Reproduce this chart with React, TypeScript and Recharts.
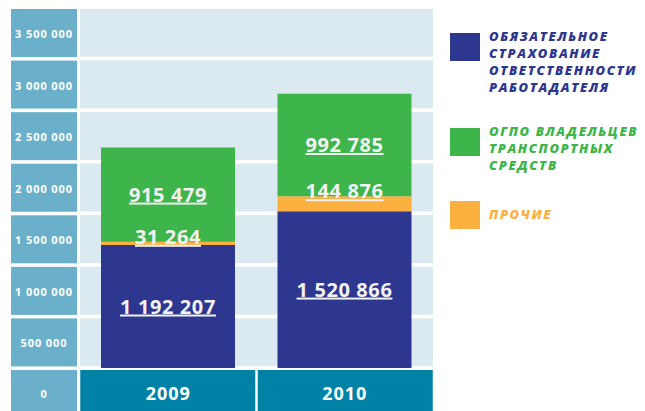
import { BarChart, Bar, XAxis, YAxis, CartesianGrid, LabelList } from 'recharts'

const YEARS = ['2009', '2010']
const LIABILITY = [1192207, 1520866]
const OTHER = [31264, 144876]
const MOTOR = [915479, 992785]
const Y_TICKS = [0, 500000, 1000000, 1500000, 2000000, 2500000, 3000000, 3500000]

const COLORS = {
    liability: '#2e3790',
    motor: '#3db54a',
    other: '#fbb040',
    plotBg: '#dbe9f1',
    yCell: '#6ab0cb',
    xCell: '#0082a7',
}

const LEGEND = [
    { key: 'liability', top: 33, lines: ['ОБЯЗАТЕЛЬНОЕ', 'СТРАХОВАНИЕ', 'ОТВЕТСТВЕННОСТИ', 'РАБОТАДАТЕЛЯ'] },
    { key: 'motor', top: 128, lines: ['ОГПО ВЛАДЕЛЬЦЕВ', 'ТРАНСПОРТНЫХ', 'СРЕДСТВ'] },
    { key: 'other', top: 201, lines: ['ПРОЧИЕ'], centered: true },
]

const data = YEARS.map((year, i) => ({
    year,
    liability: LIABILITY[i],
    other: OTHER[i],
    motor: MOTOR[i],
}))

const fmt = (v: number) => String(v).replace(/\B(?=(\d{3})+(?!\d))/g, ' ')

const FONT = '"Open Sans", sans-serif'
const ROW = 51.6

// left column: each label sits in the band just below its value line
const YTick = ({ x, y, payload }: any) => {
    const isZero = payload.value === 0
    const top = y + 2
    const h = isZero ? 411 - top : ROW - 3.6
    return (
        <g>
            <rect x={x - 69} y={top} width={66} height={h} fill={COLORS.yCell} />
            <text
                x={x - 36}
                y={isZero ? top + 28 : top + 29}
                textAnchor="middle"
                fill="#fff"
                fontFamily={FONT}
                fontWeight={700}
                fontSize={11}
                letterSpacing={0.9}
            >
                {fmt(payload.value)}
            </text>
        </g>
    )
}

const XTick = ({ x, y, payload, index }: any) => {
    const left = index === 0 ? x - 88 : x - 87
    return (
        <g>
            <rect x={left} y={y + 2} width={175} height={411 - y - 2} fill={COLORS.xCell} />
            <text
                x={x}
                y={y + 32}
                textAnchor="middle"
                fill="#fff"
                fontFamily={FONT}
                fontWeight={700}
                fontSize={18}
                letterSpacing={1}
            >
                {payload.value}
            </text>
        </g>
    )
}

const CenterLabel = ({ x, y, width, height, value }: any) => (
    <text
        x={x + width / 2}
        y={y + height / 2 + 7}
        textAnchor="middle"
        fill="#f2f2f2"
        fontFamily={FONT}
        fontWeight={700}
        fontSize={20}
        letterSpacing={0.6}
        textDecoration="underline"
    >
        {fmt(value)}
    </text>
)

const TopLabel = ({ x, y, width, value }: any) => (
    <text
        x={x + width / 2}
        y={y + 2}
        textAnchor="middle"
        fill="#f2f2f2"
        fontFamily={FONT}
        fontWeight={700}
        fontSize={20}
        letterSpacing={0.6}
        textDecoration="underline"
    >
        {fmt(value)}
    </text>
)

export default function App() {
    return (
        <div style={{ position: 'absolute', left: 0, top: 0, width: 645, height: 411, background: '#fff' }}>
            <BarChart
                width={645}
                height={411}
                data={data}
                margin={{ top: 7, right: 212, left: 0, bottom: 0 }}
                barSize={134}
            >
                <CartesianGrid vertical={false} stroke="#fff" strokeWidth={3.6} fill={COLORS.plotBg} />
                <XAxis
                    dataKey="year"
                    height={43}
                    axisLine={false}
                    tickLine={false}
                    tickSize={0}
                    tickMargin={0}
                    tick={<XTick />}
                />
                <YAxis
                    width={80}
                    domain={[0, 3500000]}
                    ticks={Y_TICKS}
                    interval={0}
                    axisLine={false}
                    tickLine={false}
                    tickSize={0}
                    tickMargin={0}
                    tick={<YTick />}
                />
                <Bar dataKey="liability" stackId="a" fill={COLORS.liability} isAnimationActive={false}>
                    <LabelList dataKey="liability" content={<CenterLabel />} />
                </Bar>
                <Bar dataKey="other" stackId="a" fill={COLORS.other} isAnimationActive={false}>
                    <LabelList dataKey="other" content={<TopLabel />} />
                </Bar>
                <Bar dataKey="motor" stackId="a" fill={COLORS.motor} isAnimationActive={false}>
                    <LabelList dataKey="motor" content={<CenterLabel />} />
                </Bar>
            </BarChart>

            {/* Legend */}
            {LEGEND.map(item => (
                <div key={item.key} style={{ position: 'absolute', left: 450, top: item.top, display: 'flex' }}>
                    <div style={{ width: 30, height: 28, background: (COLORS as any)[item.key], flexShrink: 0 }} />
                    <div
                        style={{
                            marginLeft: 9,
                            marginTop: item.centered ? 5 : -5.2,
                            fontFamily: FONT,
                            fontWeight: 800,
                            fontStyle: 'italic',
                            fontSize: 13,
                            lineHeight: '17px',
                            letterSpacing: 1.6,
                            color: (COLORS as any)[item.key],
                            whiteSpace: 'nowrap',
                        }}
                    >
                        {item.lines.map(l => <div key={l}>{l}</div>)}
                    </div>
                </div>
            ))}
        </div>
    )
}
